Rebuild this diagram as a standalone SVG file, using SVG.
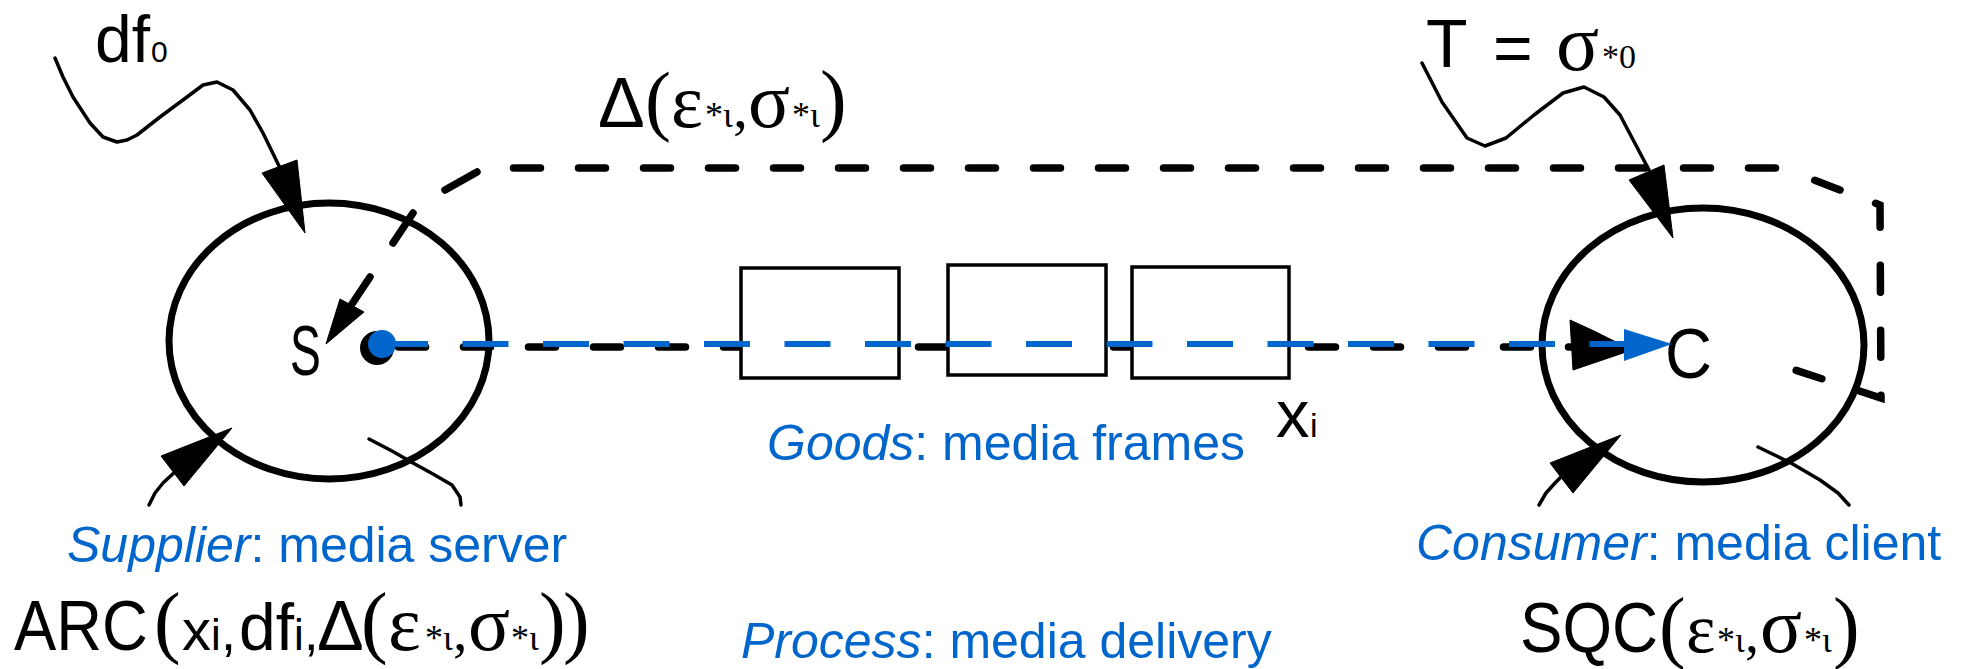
<svg xmlns="http://www.w3.org/2000/svg" width="1963" height="669" viewBox="0 0 1963 669">
  <style>
    .ring { fill: none; stroke: #000; stroke-width: 7; }
    .thin { fill: none; stroke: #000; stroke-width: 3.5; stroke-linejoin: round; stroke-linecap: round; }
    .bold { fill: none; stroke: #000; stroke-width: 7.5; stroke-linecap: round; }
    .dash { fill: none; stroke: #000; stroke-width: 7.5; stroke-linecap: round; stroke-dasharray: 27 38; }
    .flow { fill: none; stroke: #0066CC; stroke-width: 6; stroke-dasharray: 46 34.5; }
    .head { fill: #000; stroke: #000; stroke-width: 1; stroke-linejoin: round; }
    .bhead { fill: #0066CC; }
    .box { fill: #fff; stroke: #000; stroke-width: 3.5; }
    .math { fill: #000; font-family: 'Liberation Sans', Arial, sans-serif; }
    .serif { font-family: 'Liberation Serif', 'Times New Roman', serif; }
    .lbl { font-family: 'Liberation Sans', Arial, sans-serif; font-size: 50px; fill: #0066CC; }
    .it { font-style: italic; }
  </style>

  <!-- supplier node -->
  <g id="supplier">
    <ellipse class="ring" cx="329" cy="341" rx="160" ry="138"/>
    <text class="math" font-size="70" transform="translate(290 375) scale(0.66 1)">S</text>
    <circle cx="377" cy="348" r="17" fill="#000"/>
    <circle cx="382" cy="344" r="14" fill="#0066CC"/>
  </g>

  <!-- consumer node -->
  <g id="consumer">
    <ellipse class="ring" cx="1703" cy="345" rx="161" ry="137"/>
    <text class="math" font-size="70" transform="translate(1665 378) scale(0.93 1)">C</text>
  </g>

  <!-- connectors -->
  <g id="connectors">
    <!-- delivery path, black -->
    <path class="dash" d="M398.5 347 H1575"/>
    <polygon class="head" points="1570,320 1594,331 1632,350 1573,370"/>

    <!-- feedback loop, dashed -->
    <path class="dash" d="M513.5 168 H1782"/>
    <path class="dash" style="stroke-dashoffset:30" d="M1782 168 L1880 205 L1881 398 L1795 370"/>
    <path class="bold" d="M477 172 L445 190 M413 213 L393 243 M370 277 L352 304"/>
    <polygon class="head" points="340,299 364,312 326,344"/>

    <!-- disturbance into supplier -->
    <polyline class="thin" points="55,58 63,77 73,97 90,123 103,137 117,142 127,140 137,135 160,117 187,97 203,85 217,82 233,90 250,110 263,133 280,168"/>
    <polygon class="head" points="262,173 297,160 305,233"/>

    <!-- target into consumer -->
    <polyline class="thin" points="1422,63 1442,102 1467,138 1485,146 1506,138 1534,115 1563,93 1584,87 1604,97 1620,115 1649,170"/>
    <polygon class="head" points="1629,180 1664,165 1673,238"/>

    <!-- lower loops at the supplier -->
    <polyline class="thin" points="149,505 155,493 163,483 177,470"/>
    <polygon class="head" points="161,456 184,486 232,428"/>
    <polyline class="thin" points="369,439 392,451 413,463 433,474 452,485 460,497 461,505"/>

    <!-- lower loops at the consumer -->
    <polyline class="thin" points="1539,505 1546,493 1555,483 1567,471"/>
    <polygon class="head" points="1550,463 1573,493 1621,435"/>
    <polyline class="thin" points="1758,447 1791,463 1820,480 1838,493 1849,505"/>
  </g>

  <!-- goods: frames in transit -->
  <g id="frames">
    <rect class="box" x="741" y="268" width="158" height="110"/>
    <rect class="box" x="948" y="265" width="158" height="110"/>
    <rect class="box" x="1132" y="267" width="157" height="111"/>
  </g>

  <!-- media flow, blue -->
  <g id="flow">
    <path class="flow" d="M382 344 H1628"/>
    <polygon class="bhead" points="1624,329 1672,344 1624,361"/>
  </g>

  <!-- labels -->
  <g id="label-df0">
    <text class="math"><tspan x="95" y="62" font-size="66">df</tspan><tspan x="151" y="62" font-size="30">0</tspan></text>
  </g>

  <g id="label-target">
    <text class="math"><tspan x="1426" y="67" font-size="68">T</tspan><tspan x="1493" y="72" font-size="68">=</tspan><tspan class="serif" x="1556" y="70" font-size="80">σ</tspan><tspan class="serif" x="1602" y="68" font-size="34">*0</tspan></text>
  </g>

  <g id="label-delta">
    <text class="math"><tspan x="598" y="127" font-size="70">Δ</tspan><tspan class="serif" x="645" y="126" font-size="78">(</tspan><tspan class="serif" x="671" y="127" font-size="76">ε</tspan><tspan class="serif" x="705" y="127" font-size="36">*ι</tspan><tspan class="serif" x="733" y="127" font-size="60">,</tspan><tspan class="serif" x="748" y="127" font-size="78">σ</tspan><tspan class="serif" x="792" y="127" font-size="36">*ι</tspan><tspan class="serif" x="820" y="126" font-size="80">)</tspan></text>
  </g>

  <g id="label-xi">
    <text class="math"><tspan x="1276" y="437" font-size="67">x</tspan><tspan x="1310" y="437" font-size="34">i</tspan></text>
  </g>

  <g id="label-goods">
    <text class="lbl" x="767" y="460"><tspan class="it">Goods</tspan>: media frames</text>
  </g>

  <g id="label-supplier">
    <text class="lbl" x="67" y="562"><tspan class="it">Supplier</tspan>: media server</text>
  </g>

  <g id="label-consumer">
    <text class="lbl" x="1416" y="560"><tspan class="it">Consumer</tspan>: media client</text>
  </g>

  <g id="label-process">
    <text class="lbl" x="741" y="658"><tspan class="it">Process</tspan>: media delivery</text>
  </g>

  <g id="label-arc">
    <text class="math" font-size="70" transform="translate(14 650) scale(0.905 1)">ARC</text>
    <text class="math"><tspan class="serif" x="154" y="648" font-size="80">(</tspan><tspan x="182" y="650" font-size="58">x</tspan><tspan x="211" y="650" font-size="44">i</tspan><tspan x="221" y="650" font-size="54">,</tspan><tspan x="239" y="650" font-size="66">df</tspan><tspan x="294" y="650" font-size="44">i</tspan><tspan x="304" y="650" font-size="52">,</tspan><tspan x="317" y="650" font-size="70">Δ</tspan><tspan class="serif" x="361" y="648" font-size="80">(</tspan><tspan class="serif" x="388" y="650" font-size="78">ε</tspan><tspan class="serif" x="425" y="650" font-size="36">*ι</tspan><tspan class="serif" x="453" y="650" font-size="58">,</tspan><tspan class="serif" x="468" y="650" font-size="78">σ</tspan><tspan class="serif" x="511" y="650" font-size="36">*ι</tspan><tspan class="serif" x="539" y="648" font-size="80">)</tspan><tspan class="serif" x="563" y="648" font-size="80">)</tspan></text>
  </g>

  <g id="label-sqc">
    <text class="math" font-size="70" transform="translate(1520 652) scale(0.91 1)">SQC</text>
    <text class="math"><tspan class="serif" x="1659" y="653" font-size="80">(</tspan><tspan class="serif" x="1686" y="652" font-size="70">ε</tspan><tspan class="serif" x="1717" y="652" font-size="36">*ι</tspan><tspan class="serif" x="1745" y="652" font-size="56">,</tspan><tspan class="serif" x="1760" y="652" font-size="78">σ</tspan><tspan class="serif" x="1804" y="652" font-size="36">*ι</tspan><tspan class="serif" x="1833" y="653" font-size="80">)</tspan></text>
  </g>
</svg>
